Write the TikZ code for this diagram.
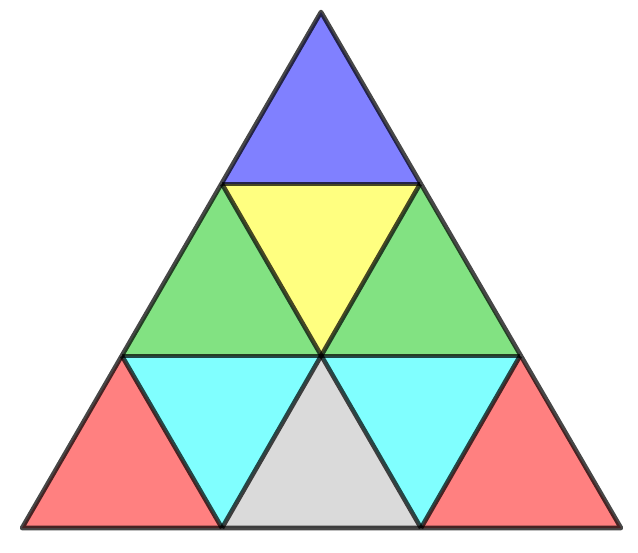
\documentclass[tikz,border=0pt]{standalone}
\definecolor{cblue}{RGB}{128,128,255}
\definecolor{cyellow}{RGB}{255,255,128}
\definecolor{cgreen}{RGB}{130,226,130}
\definecolor{ccyan}{RGB}{128,255,255}
\definecolor{cred}{RGB}{255,128,128}
\definecolor{cgray}{RGB}{218,218,218}
\tikzset{tri/.style={draw=black,draw opacity=0.72,line width=2.6pt,line join=round}}
\begin{document}
\begin{tikzpicture}[x=0.02cm,y=-0.02cm]
\useasboundingbox (0,0) rectangle (638,552);
\coordinate (A) at (321,12);
\coordinate (B1) at (222,184);
\coordinate (B2) at (420,184);
\coordinate (C1) at (122,356);
\coordinate (C2) at (321,356);
\coordinate (C3) at (520,356);
\coordinate (D1) at (22,528);
\coordinate (D2) at (222,528);
\coordinate (D3) at (421,528);
\coordinate (D4) at (621,528);
\fill[cblue] (A) -- (B1) -- (B2) -- cycle;
\fill[cyellow] (B1) -- (B2) -- (C2) -- cycle;
\fill[cgreen] (B1) -- (C1) -- (C2) -- cycle;
\fill[cgreen] (B2) -- (C2) -- (C3) -- cycle;
\fill[cred] (C1) -- (D1) -- (D2) -- cycle;
\fill[ccyan] (C1) -- (C2) -- (D2) -- cycle;
\fill[cgray] (C2) -- (D2) -- (D3) -- cycle;
\fill[ccyan] (C2) -- (C3) -- (D3) -- cycle;
\fill[cred] (C3) -- (D3) -- (D4) -- cycle;
\draw[tri] (A) -- (D1) -- (D4) -- cycle;
\draw[tri] (B1) -- (B2);
\draw[tri] (C1) -- (C3);
\draw[tri] (B1) -- (D3);
\draw[tri] (B2) -- (D2);
\draw[tri] (C1) -- (D2);
\draw[tri] (C3) -- (D3);
\end{tikzpicture}
\end{document}
